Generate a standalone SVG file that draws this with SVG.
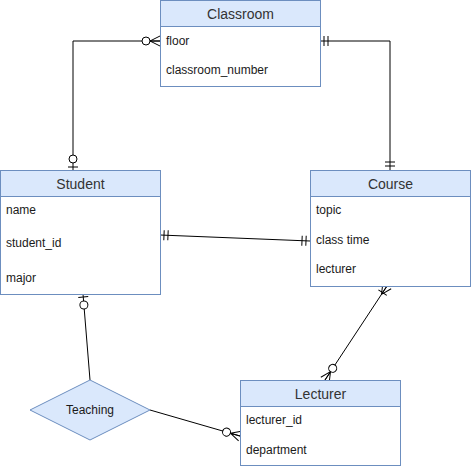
<svg xmlns="http://www.w3.org/2000/svg" width="472" height="470" viewBox="0 0 472 470">
  <style>
    .hdr { fill: #dae8fc; stroke: #6c8ebf; stroke-width: 1; }
    .body { fill: #ffffff; stroke: #6c8ebf; stroke-width: 1; }
    .title { font-family: "Liberation Sans", Arial, sans-serif; font-size: 14px; fill: #333333; text-anchor: middle; }
    .field { font-family: "Liberation Sans", Arial, sans-serif; font-size: 12px; fill: #1a1a1a; }
    .rel { fill: #dae8fc; stroke: #6c8ebf; stroke-width: 1; }
    .edge { fill: none; stroke: #000000; stroke-width: 1; }
    .mk { fill: none; stroke: #000000; stroke-width: 1; }
    .mkc { fill: #ffffff; stroke: #000000; stroke-width: 1; }
  </style>
  <defs>
    <!-- ER cardinality markers; tip sits at x=0, pointing into the entity -->
    <marker id="mandOne" markerUnits="userSpaceOnUse" viewBox="-20 -10 22 20" markerWidth="22" markerHeight="20" refX="0" refY="0" orient="auto-start-reverse" overflow="visible">
      <path class="mk" d="M-4,-5 V5 M-8,-5 V5"/>
    </marker>
    <marker id="zeroOne" markerUnits="userSpaceOnUse" viewBox="-20 -10 22 20" markerWidth="22" markerHeight="20" refX="0" refY="0" orient="auto-start-reverse" overflow="visible">
      <path class="mk" d="M-3,-5 V5"/>
      <circle class="mkc" cx="-11" cy="0" r="4"/>
    </marker>
    <marker id="zeroMany" markerUnits="userSpaceOnUse" viewBox="-20 -10 22 20" markerWidth="22" markerHeight="20" refX="0" refY="0" orient="auto-start-reverse" overflow="visible">
      <path class="mk" d="M-10,0 L0,-5 M-10,0 L0,0 M-10,0 L0,5"/>
      <circle class="mkc" cx="-14" cy="0" r="4"/>
    </marker>
    <marker id="oneMany" markerUnits="userSpaceOnUse" viewBox="-20 -10 22 20" markerWidth="22" markerHeight="20" refX="0" refY="0" orient="auto-start-reverse" overflow="visible">
      <path class="mk" d="M-10,0 L0,-5 M-10,0 L0,0 M-10,0 L0,5 M-8,-5 V5"/>
    </marker>
  </defs>

  <g id="connectors">
    <!-- Student (top) to Classroom (floor) -->
    <path class="edge" d="M73,170 V41 H160" marker-start="url(#zeroOne)" marker-end="url(#zeroMany)"/>
    <!-- Classroom to Course (top) -->
    <path class="edge" d="M320,41 H390 V170" marker-start="url(#mandOne)" marker-end="url(#mandOne)"/>
    <!-- Student to Course -->
    <path class="edge" d="M160,235 L310,241" marker-start="url(#mandOne)" marker-end="url(#mandOne)"/>
    <!-- Course to Lecturer -->
    <path class="edge" d="M387,286 L325,380" marker-start="url(#oneMany)" marker-end="url(#zeroMany)"/>
    <!-- Student to Teaching -->
    <path class="edge" d="M83,294 L90,380" marker-start="url(#zeroOne)"/>
    <!-- Teaching to Lecturer -->
    <path class="edge" d="M150,410 L240,436" marker-end="url(#zeroMany)"/>
  </g>

  <g id="classroom">
    <rect class="body" x="160.5" y="0.5" width="160" height="86"/>
    <rect class="hdr" x="160.5" y="0.5" width="160" height="26"/>
    <text class="title" x="240.5" y="19">Classroom</text>
    <text class="field" x="166" y="45">floor</text>
    <text class="field" x="166" y="74">classroom_number</text>
  </g>

  <g id="student">
    <rect class="body" x="0.5" y="170.5" width="160" height="124"/>
    <rect class="hdr" x="0.5" y="170.5" width="160" height="26"/>
    <text class="title" x="80.5" y="189">Student</text>
    <text class="field" x="6" y="214">name</text>
    <text class="field" x="6" y="247">student_id</text>
    <text class="field" x="6" y="282">major</text>
  </g>

  <g id="course">
    <rect class="body" x="310.5" y="170.5" width="160" height="116"/>
    <rect class="hdr" x="310.5" y="170.5" width="160" height="26"/>
    <text class="title" x="390.5" y="189">Course</text>
    <text class="field" x="316" y="214">topic</text>
    <text class="field" x="316" y="244">class time</text>
    <text class="field" x="316" y="273">lecturer</text>
  </g>

  <g id="lecturer">
    <rect class="body" x="240.5" y="380.5" width="160" height="85"/>
    <rect class="hdr" x="240.5" y="380.5" width="160" height="26"/>
    <text class="title" x="320.5" y="399">Lecturer</text>
    <text class="field" x="246" y="424">lecturer_id</text>
    <text class="field" x="246" y="454">department</text>
  </g>

  <g id="teaching">
    <polygon class="rel" points="90,380 150,410 90,440 30,410"/>
    <text class="field" x="90" y="414" text-anchor="middle">Teaching</text>
  </g>
</svg>
